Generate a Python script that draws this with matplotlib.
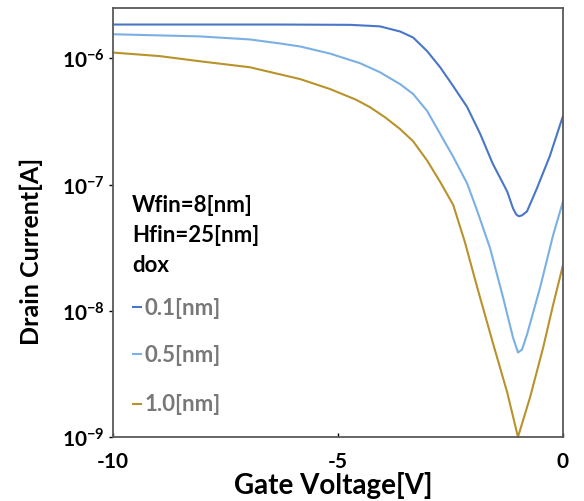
import matplotlib.pyplot as plt
from matplotlib.lines import Line2D
from matplotlib.ticker import FixedLocator, NullLocator

plt.rcParams['font.family'] = ['Lato', 'DejaVu Sans']
plt.rcParams['mathtext.fontset'] = 'custom'
plt.rcParams['mathtext.rm'] = 'Lato'
plt.rcParams['mathtext.bf'] = 'Lato:bold'

# gate voltage [V] and drain current [A]
vg_01 = [-10.0, -8.07, -6.29, -4.73, -4.07, -3.62, -3.33, -3.02, -2.73, -2.44, -2.13, -1.84,
         -1.56, -1.24, -1.11, -1.04, -0.98, -0.91, -0.80, -0.58, -0.29, 0.0]
id_01 = [1.85e-6, 1.85e-6, 1.85e-6, 1.84e-6, 1.79e-6, 1.63e-6, 1.46e-6, 1.14e-6, 8.49e-7,
         6.02e-7, 4.11e-7, 2.52e-7, 1.46e-7, 8.81e-8, 6.47e-8, 5.8e-8, 5.6e-8, 5.7e-8,
         6.12e-8, 9.31e-8, 1.69e-7, 3.49e-7]

vg_05 = [-10.0, -8.07, -6.96, -6.29, -5.84, -5.18, -4.51, -4.07, -3.62, -3.33, -3.02, -2.73,
         -2.44, -2.13, -1.91, -1.62, -1.33, -1.11, -1.0, -0.91, -0.80, -0.51, -0.22, 0.0]
id_05 = [1.55e-6, 1.49e-6, 1.41e-6, 1.31e-6, 1.24e-6, 1.09e-6, 9.14e-7, 7.76e-7, 6.24e-7,
         5.21e-7, 3.83e-7, 2.52e-7, 1.66e-7, 1.02e-7, 6.24e-8, 3.13e-8, 1.27e-8, 6.12e-9,
         4.67e-9, 4.93e-9, 6.47e-9, 1.52e-8, 3.96e-8, 7.34e-8]

vg_10 = [-10.0, -8.96, -8.07, -6.96, -5.84, -5.18, -4.60, -4.29, -3.95, -3.62, -3.33, -3.02,
         -2.73, -2.44, -2.18, -1.91, -1.56, -1.24, -1.0, -0.73, -0.44, -0.22, 0.0]
id_10 = [1.11e-6, 1.04e-6, 9.47e-7, 8.49e-7, 6.84e-7, 5.71e-7, 4.7e-7, 4.1e-7, 3.4e-7,
         2.75e-7, 2.2e-7, 1.55e-7, 1.05e-7, 6.9e-8, 3.5e-8, 1.55e-8, 5.6e-9, 2.26e-9,
         1.0e-9, 2.07e-9, 5.12e-9, 1.11e-8, 2.30e-8]

labels = ['0.1[nm]', '0.5[nm]', '1.0[nm]']
colors = ['#4a76c8', '#7ab0e4', '#b8922a']

fig = plt.figure(figsize=(5.84, 5.02), dpi=100)
ax = fig.add_axes([0.1935, 0.1275, 0.7705, 0.8545])

for vg, cur, c in zip([vg_01, vg_05, vg_10], [id_01, id_05, id_10], colors):
    ax.plot(vg, cur, color=c, lw=1.5, solid_joinstyle='round')

ax.set_yscale('log')
ax.set_xlim(-10, 0)
ax.set_ylim(1e-9, 2.5e-6)
ax.xaxis.set_major_locator(FixedLocator([-10, -5, 0]))
ax.yaxis.set_major_locator(FixedLocator([1e-9, 1e-8, 1e-7, 1e-6]))
ax.yaxis.set_minor_locator(NullLocator())
ax.set_xticklabels(['-10', '-5', '0'], fontsize=15, fontweight='bold')
ax.set_yticklabels([r'$\mathbf{10^{-9}}$', r'$\mathbf{10^{-8}}$', r'$\mathbf{10^{-7}}$',
                    r'$\mathbf{10^{-6}}$'], fontsize=15)
ax.tick_params(axis='x', direction='in', length=3, width=1, pad=10)
ax.tick_params(axis='y', direction='out', length=3, width=1, pad=3)
for s in ax.spines.values():
    s.set_color('#595959')
    s.set_linewidth(1.3)

ax.set_xlabel('Gate Voltage[V]', fontsize=20, fontweight='bold')
ax.xaxis.set_label_coords(0.49, -0.079)
ax.set_ylabel('Drain Current[A]', fontsize=18, fontweight='bold')
ax.yaxis.set_label_coords(-0.155, 0.434)

# annotation block
ax.text(0.042, 0.543, 'Wfin=8[nm]', transform=ax.transAxes, fontsize=16, fontweight='bold', va='center')
ax.text(0.042, 0.471, 'Hfin=25[nm]', transform=ax.transAxes, fontsize=16, fontweight='bold', va='center')
ax.text(0.042, 0.401, 'dox', transform=ax.transAxes, fontsize=16, fontweight='bold', va='center')
ys = [0.303, 0.193, 0.077]
for lab, c, y in zip(labels, colors, ys):
    ax.add_line(Line2D([0.045, 0.063], [y, y], transform=ax.transAxes, color=c, lw=1.5))
    ax.text(0.069, y, lab, transform=ax.transAxes, fontsize=16, fontweight='bold',
            color='#787878', va='center')

fig.savefig('out.png', dpi=100)
